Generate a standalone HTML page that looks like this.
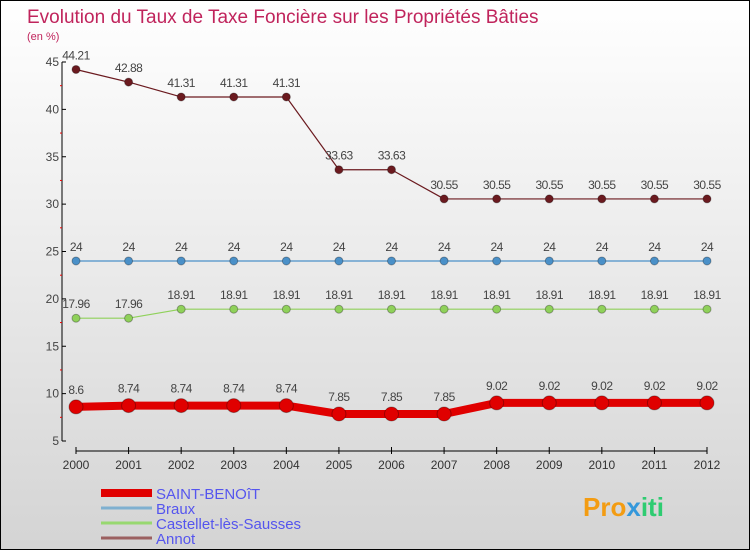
<!DOCTYPE html>
<html><head><meta charset="utf-8"><style>
body{margin:0}
#c{width:748px;height:548px;border:1px solid #000;background:linear-gradient(#fff,#d4d4d4);position:relative;font-family:"Liberation Sans",sans-serif;overflow:hidden}
svg text{font-family:"Liberation Sans",sans-serif}
</style></head><body>
<div id="c">
<svg width="748" height="548" id="s">
<text x="26" y="22" font-size="19" fill="#c0245c">Evolution du Taux de Taxe Foncière sur les Propriétés Bâties</text>
<text x="26" y="39" font-size="11" fill="#c0245c">(en %)</text>
<g id="axes"></g><g id="series"></g><g id="legend"></g>
<text x="582" y="515" font-size="26" font-weight="bold" fill="#f39c12">Pro<tspan fill="#3498db">x</tspan><tspan fill="#2ecc71">iti</tspan></text>
</svg></div>
<script>
const years=[2000,2001,2002,2003,2004,2005,2006,2007,2008,2009,2010,2011,2012];
const yTicks=[5,10,15,20,25,30,35,40,45];
const saint=[8.6,8.74,8.74,8.74,8.74,7.85,7.85,7.85,9.02,9.02,9.02,9.02,9.02];
const braux=[24,24,24,24,24,24,24,24,24,24,24,24,24];
const castellet=[17.96,17.96,18.91,18.91,18.91,18.91,18.91,18.91,18.91,18.91,18.91,18.91,18.91];
const annot=[44.21,42.88,41.31,41.31,41.31,33.63,33.63,30.55,30.55,30.55,30.55,30.55,30.55];
const seriesNames=["SAINT-BENOîT","Braux","Castellet-lès-Sausses","Annot"];
const NS="http://www.w3.org/2000/svg";
const X=i=>75+i*(706-75)/(years.length-1);
const Y=v=>440-(v-5)*(440-61)/40;
function mk(tag,attrs,parent){const e=document.createElementNS(NS,tag);for(const k in attrs)e.setAttribute(k,attrs[k]);parent.appendChild(e);return e;}
const ax=document.getElementById('axes');
let e=mk('line',{x1:61,y1:61,x2:61,y2:440,stroke:'#000','stroke-width':1},ax);


e=mk('line',{x1:75,y1:450,x2:706,y2:450,stroke:'#000','stroke-width':1},ax);


yTicks.forEach((t,i)=>{
 mk('line',{x1:61,y1:Y(t),x2:65,y2:Y(t),stroke:'#000'},ax);
 if(i<yTicks.length-1)mk('line',{x1:59,y1:Y(t+2.5),x2:61,y2:Y(t+2.5),stroke:'#e00'},ax);
 const tx=mk('text',{x:58,y:Y(t)+4,'font-size':12,fill:'#444','text-anchor':'end'},ax);tx.textContent=t;
 
 
});
years.forEach((y,i)=>{
 mk('line',{x1:X(i),y1:446,x2:X(i),y2:453,stroke:'#000'},ax);
 const tx=mk('text',{x:X(i),y:468,'font-size':12,fill:'#333','text-anchor':'middle'},ax);tx.textContent=y;
 
 
});
const sg=document.getElementById('series');
function draw(vals,color,lw,r,name,labelColor){
 const g=mk('g',{},sg);
 
 
 mk('polyline',{points:vals.map((v,i)=>X(i)+','+Y(v)).join(' '),fill:'none',stroke:color,'stroke-width':lw,'stroke-linejoin':'round'},g);
 vals.forEach((v,i)=>{
  const c=mk('circle',{cx:X(i),cy:Y(v),r:r,fill:color,stroke:'rgba(0,0,0,0.3)'},g);
  
  
  const t=mk('text',{x:X(i),y:Y(v)-(r+6),'font-size':12,fill:'#444','text-anchor':'middle','letter-spacing':'-0.5'},g);
  t.textContent=v;
  
  
 });
}
draw(annot,'#6b1a1f',1.2,4,'series-annot');
draw(castellet,'#8fd15a',1.2,4,'series-castellet');
draw(braux,'#4a90c8',1.2,4,'series-braux');
draw(saint,'#e00000',8,7,'series-saint-benoit');
const lg=document.getElementById('legend');
const lc=['#e00000','#7fb0d0','#98d870','#9b6060'],lw=[8,3,3,3];
seriesNames.forEach((n,i)=>{
 const y=492+i*15;
 const g=mk('g',{},lg);
 
 
 mk('line',{x1:100,y1:y,x2:151,y2:y,stroke:lc[i],'stroke-width':lw[i]},g);
 const t=mk('text',{x:155,y:y+6,'font-size':15,fill:'#5555ee'},g);t.textContent=n;
});
</script></body></html>
